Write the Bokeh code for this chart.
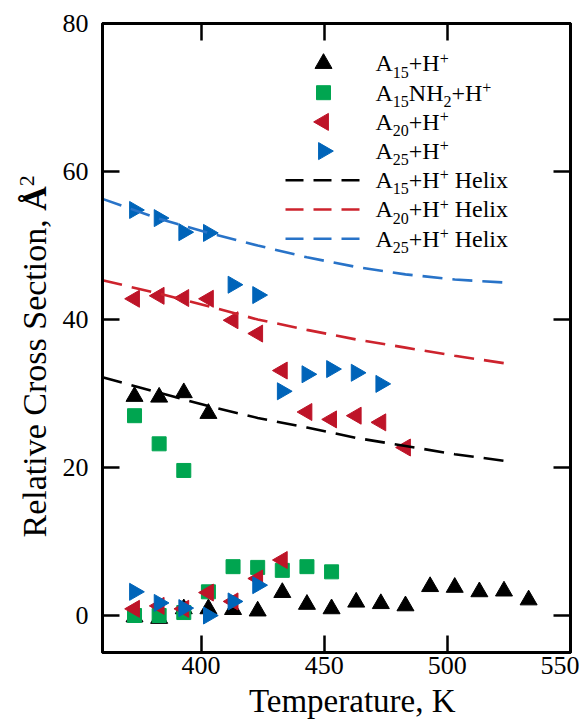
import math
from bokeh.plotting import figure
from bokeh.models import Range1d, FixedTicker, LinearAxis, Label
from bokeh.layouts import row, column
from bokeh.core.properties import value
from bokeh.embed import file_html
from bokeh.resources import INLINE

# ---------------- data ----------------
# A15+H+ (black up-triangles): helix-like group then compact group
a15_T = [373, 383, 393, 403,
         373, 383, 393, 403, 413, 423, 433, 443, 453, 463, 473, 483, 493, 503, 513, 523, 533]
a15_cs = [29.6, 29.5, 30.1, 27.3,
          -0.2, -0.4, 0.9, 0.9, 0.8, 0.6, 3.1, 1.5, 0.9, 1.8, 1.6, 1.3, 3.9, 3.8, 3.2, 3.3, 2.1]

# A15NH2+H+ (green squares)
a15nh2_T = [373, 383, 393,
            373, 383, 393, 403, 413, 423, 433, 443, 453]
a15nh2_cs = [27.0, 23.2, 19.6,
             0.0, 0.0, 0.4, 3.2, 6.6, 6.5, 6.1, 6.6, 5.9]

# A20+H+ (red left-triangles)
a20_T = [373, 383, 393, 403, 413, 423, 433, 443, 453, 463, 473, 483,
         373, 383, 393, 403, 413, 423, 433]
a20_cs = [42.8, 43.2, 42.9, 42.8, 39.9, 38.1, 33.1, 27.5, 26.5, 27.0, 26.1, 22.7,
          0.9, 1.3, 0.9, 3.1, 1.9, 5.0, 7.5]

# A25+H+ (blue right-triangles)
a25_T = [373, 383, 393, 403, 413, 423, 433, 443, 453, 463, 473,
         373, 383, 393, 403, 413, 423]
a25_cs = [54.8, 53.7, 51.8, 51.7, 44.7, 43.3, 30.3, 32.6, 33.3, 32.8, 31.3,
          3.2, 1.7, 1.0, 0.0, 1.9, 4.1]

# Calculated helix cross sections (dashed lines)
helix_T = [360, 383, 403, 423, 443, 463, 483, 503, 523]
helix_a15 = [32.2, 30.1, 28.3, 26.7, 25.4, 24.0, 22.9, 21.8, 20.9]
helix_a20 = [45.3, 43.5, 41.8, 40.0, 38.6, 37.3, 36.2, 35.1, 34.1]
helix_a25 = [56.3, 53.6, 51.7, 50.0, 48.4, 47.1, 46.1, 45.4, 45.0]

x_ticks = [400, 450, 500, 550]
y_ticks = [0, 20, 40, 60, 80]

x_title = "Temperature, K"
y_title_main = "Relative Cross Section, "
y_title_unit = "\u00c5"
y_title_sup = "2"

# ---------------- styling ----------------
BLACK = "#000000"
GREEN = "#00A550"
RED_M = "#BE1428"
BLUE_M = "#0064B9"
RED_L = "#CD232D"
BLUE_L = "#2873C8"
FONT = "Liberation Serif"

W, H = 579, 723
WL = 58            # width of the strip holding the y title
HB = 37            # height of the strip holding the x title
FL, FR, FT, FB = 102, 570, 23, 652   # frame edges in page pixels
X0, X1, Y0, Y1 = 360, 550, -5, 80
BL = 0.34          # baseline -> anchor correction (fraction of font size)


def px2x(px):
    return X0 + (px - FL) * (X1 - X0) / (FR - FL)


def px2y(py):
    return Y1 - (py - FT) * (Y1 - Y0) / (FB - FT)


p = figure(width=W - WL, height=H - HB, x_range=Range1d(X0, X1), y_range=Range1d(Y0, Y1),
           output_backend="svg", toolbar_location=None,
           min_border_left=FL - WL, min_border_right=W - FR,
           min_border_top=FT, min_border_bottom=H - HB - FB)
p.grid.visible = False
p.outline_line_color = "black"
p.outline_line_width = 3
p.background_fill_color = "white"
p.border_fill_color = "white"

TICK = 17
for ax in (p.xaxis[0], p.yaxis[0]):
    ax.axis_line_width = 3
    ax.major_tick_in = TICK
    ax.major_tick_out = 0
    ax.major_tick_line_width = 2.5
    ax.minor_tick_line_color = None
    ax.major_label_text_font = FONT
    ax.major_label_text_font_size = "26px"
    ax.major_label_text_color = "black"

p.xaxis[0].ticker = FixedTicker(ticks=x_ticks)
p.xaxis[0].major_label_standoff = 4
p.yaxis[0].ticker = FixedTicker(ticks=y_ticks)
p.yaxis[0].major_label_standoff = 14


def frame_axis(ticks):
    return LinearAxis(ticker=FixedTicker(ticks=ticks),
                      major_label_overrides={t: "" for t in ticks},
                      major_label_standoff=0, major_tick_in=TICK, major_tick_out=0,
                      major_tick_line_width=2.5, minor_tick_line_color=None,
                      axis_line_width=3)


p.add_layout(frame_axis(x_ticks), "above")
p.add_layout(frame_axis(y_ticks), "right")

# ---------------- data marks ----------------
TRI = 17
p.scatter(a15_T, a15_cs, marker="triangle", size=TRI, fill_color=BLACK, line_color=BLACK)
p.scatter(a15nh2_T, a15nh2_cs, marker="square", size=14, fill_color=GREEN, line_color=GREEN)
p.scatter(a20_T, a20_cs, marker="triangle", size=TRI, angle=math.pi / 2,
          fill_color=RED_M, line_color=RED_M)
p.scatter(a25_T, a25_cs, marker="triangle", size=TRI, angle=-math.pi / 2,
          fill_color=BLUE_M, line_color=BLUE_M)

DASH = "20 10"
p.line(helix_T, helix_a15, line_color=BLACK, line_width=2.6, line_dash=DASH)
p.line(helix_T, helix_a20, line_color=RED_L, line_width=2.6, line_dash=DASH)
p.line(helix_T, helix_a25, line_color=BLUE_L, line_width=2.6, line_dash=DASH)

# ---------------- legend (composed text with sub/superscripts) ----------------
ADV = {"A": 722, "H": 722, "N": 722, "+": 564, " ": 250, "e": 444, "l": 278,
       "i": 278, "x": 500, ",": 250, "R": 667, "C": 667, "S": 556, "v": 500,
       "t": 278, "r": 333, "o": 500, "s": 389, "c": 444, "n": 500, "a": 444}


def tw(text, size):
    return sum(ADV.get(c, 500) for c in text) * size / 1000.0


def run(pieces, x_px, base_px):
    for text, size, dy in pieces:
        if text.strip():
            p.add_layout(Label(x=px2x(x_px), y=px2y(base_px + dy - BL * size), text=text,
                               text_font=FONT, text_font_size=f"{size}px",
                               text_align="left", text_baseline="alphabetic",
                               text_color="black"))
        x_px += tw(text, size)


BIG, SMALL = 24, 16
SUB, SUP = 6, -8


def label_pieces(n, nh2=False, helix=False):
    pcs = [("A", BIG, 0), (n, SMALL, SUB)]
    if nh2:
        pcs += [("NH", BIG, 0), ("2", SMALL, SUB)]
    pcs += [("+H", BIG, 0), ("+", SMALL, SUP)]
    if helix:
        pcs += [(" ", BIG, 0), ("Helix", BIG, 0)]
    return pcs


ROW0, ROWSTEP = 63, 29.2
MX, TX = 323, 375
rows = [
    ("triangle", 0, BLACK, label_pieces("15")),
    ("square", 0, GREEN, label_pieces("15", nh2=True)),
    ("triangle", math.pi / 2, RED_M, label_pieces("20")),
    ("triangle", -math.pi / 2, BLUE_M, label_pieces("25")),
    ("line", 0, BLACK, label_pieces("15", helix=True)),
    ("line", 0, RED_L, label_pieces("20", helix=True)),
    ("line", 0, BLUE_L, label_pieces("25", helix=True)),
]
for i, (kind, ang, col, pcs) in enumerate(rows):
    ry = ROW0 + ROWSTEP * i
    if kind == "line":
        p.line([px2x(285), px2x(363)], [px2y(ry), px2y(ry)], line_color=col,
               line_width=2.6, line_dash="18 10")
    else:
        p.scatter([px2x(MX)], [px2y(ry)], marker=kind, size=TRI if kind == "triangle" else 14,
                  angle=ang, fill_color=col, line_color=col)
    run(pcs, TX, ry + 8)


# ---------------- title strips ----------------
def strip(w, h):
    f = figure(width=w, height=h, x_range=Range1d(0, w), y_range=Range1d(0, h),
               output_backend="svg", toolbar_location=None,
               x_axis_location=None, y_axis_location=None,
               min_border=0, min_border_left=0, min_border_right=0,
               min_border_top=0, min_border_bottom=0)
    f.grid.visible = False
    f.outline_line_color = None
    f.background_fill_color = "white"
    f.border_fill_color = "white"
    return f


# x title strip (below the main figure); baseline at page y = 712
pb = strip(W - WL, HB)
XT = 33
pb.text(x=[(FL + FR) / 2 - WL], y=[(H - 712) + BL * XT], text=[x_title],
        text_font=value(FONT), text_font_size=f"{XT}px", text_align="center",
        text_baseline="alphabetic", text_color="black")

# y title strip (left of the main figure), rotated text with bold unit
pl = strip(WL, H)
YT, YS = 34, 22
bx, by0 = 46, 537          # baseline x and start of the text, page pixels
ystart = H - by0
w_main = tw(y_title_main, YT)
pl.text(x=[bx - BL * YT], y=[ystart], text=[y_title_main.rstrip()], angle=math.pi / 2,
        text_font=value(FONT), text_font_size=f"{YT}px", text_align="left",
        text_baseline="alphabetic", text_color="black")
pl.text(x=[bx - BL * YT], y=[ystart + w_main], text=[y_title_unit], angle=math.pi / 2,
        text_font=value(FONT), text_font_size=f"{YT}px", text_font_style="bold",
        text_align="left", text_baseline="alphabetic", text_color="black")
pl.text(x=[bx - 12 - BL * YS], y=[ystart + w_main + 24.5], text=[y_title_sup],
        angle=math.pi / 2, text_font=value(FONT), text_font_size=f"{YS}px",
        text_align="left", text_baseline="alphabetic", text_color="black")

layout = row(pl, column(p, pb, spacing=0), spacing=0)
open("out.html", "w").write(file_html(layout, INLINE))
